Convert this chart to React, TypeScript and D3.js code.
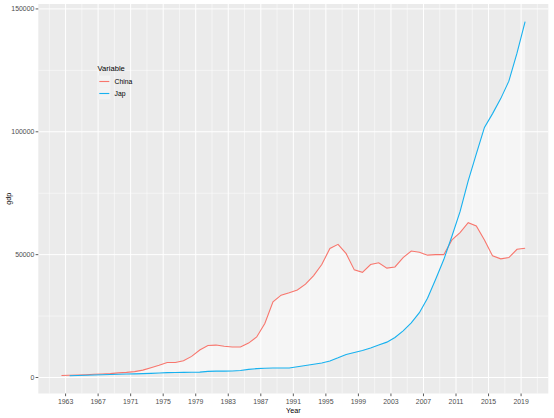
import React from "react";
import * as d3 from "d3";

// annual GDP series
const chinaYears = [
  1962, 1963, 1964, 1965, 1966, 1967, 1968, 1969, 1970, 1971,
  1972, 1973, 1974, 1975, 1976, 1977, 1978, 1979, 1980, 1981,
  1982, 1983, 1984, 1985, 1986, 1987, 1988, 1989, 1990, 1991,
  1992, 1993, 1994, 1995, 1996, 1997, 1998, 1999, 2000, 2001,
  2002, 2003, 2004, 2005, 2006, 2007, 2008, 2009, 2010, 2011,
  2012, 2013, 2014, 2015, 2016, 2017, 2018, 2019,
];
const chinaGdp = [
  810, 900, 1000, 1150, 1300, 1450, 1600, 1900, 2100, 2400,
  3000, 4000, 5000, 6100, 6100, 6800, 8600, 11200, 13000, 13200,
  12700, 12400, 12400, 14000, 16500, 22000, 30800, 33500, 34500, 35600,
  38000, 41500, 46000, 52500, 54200, 50400, 43800, 42800, 46000, 46700,
  44500, 45000, 48800, 51500, 51000, 49800, 50000, 50000, 56000, 59000,
  63000, 61700, 56000, 49500, 48300, 48800, 52200, 52600,
];
const japYears = [
  1963, 1964, 1965, 1966, 1967, 1968, 1969, 1970, 1971, 1972,
  1973, 1974, 1975, 1976, 1977, 1978, 1979, 1980, 1981, 1982,
  1983, 1984, 1985, 1986, 1987, 1988, 1989, 1990, 1991, 1992,
  1993, 1994, 1995, 1996, 1997, 1998, 1999, 2000, 2001, 2002,
  2003, 2004, 2005, 2006, 2007, 2008, 2009, 2010, 2011, 2012,
  2013, 2014, 2015, 2016, 2017, 2018, 2019,
];
const japGdp = [
  700, 800, 900, 1000, 1100, 1200, 1300, 1400, 1500, 1600,
  1700, 1850, 2000, 2050, 2100, 2150, 2200, 2500, 2600, 2600,
  2650, 2850, 3300, 3600, 3800, 3900, 3900, 3900, 4400, 4900,
  5400, 5900, 6700, 8000, 9400, 10200, 11000, 12000, 13200, 14400,
  16300, 19000, 22200, 26400, 32300, 40000, 48000, 57500, 67500, 80000,
  91000, 101800, 107400, 113500, 120600, 132000, 144800,
];

const seriesNames = ["China", "Jap"];
const xTickYears = [1963, 1967, 1971, 1975, 1979, 1983, 1987, 1991, 1995, 1999, 2003, 2007, 2011, 2015, 2019];
const yTickValues = [0, 50000, 100000, 150000];

const width = 554;
const height = 418;
const panel = { left: 38.3, right: 548.3, top: 4, bottom: 393.5 };
const colors = ["#F8766D", "#17B1EF"];
const font = "'Liberation Sans', Arial, sans-serif";

// annual values sit at mid-year
const midYear = (yr: number) => new Date(yr, 6, 1);

function expand(ext: [number, number]): [number, number] {
  const span = ext[1] - ext[0];
  return [ext[0] - span * 0.05, ext[1] + span * 0.05];
}

type Pt = { year: number; value: number };

export default function App() {
  const china: Pt[] = chinaYears.map((year, i) => ({ year, value: chinaGdp[i] }));
  const jap: Pt[] = japYears.map((year, i) => ({ year, value: japGdp[i] }));
  const all = [...china, ...jap];

  const xExt = expand([
    +midYear(d3.min(all, (d) => d.year)!),
    +midYear(d3.max(all, (d) => d.year)!),
  ]);
  const x = d3
    .scaleTime()
    .domain([new Date(xExt[0]), new Date(xExt[1])])
    .range([panel.left, panel.right]);

  const y = d3
    .scaleLinear()
    .domain(expand([d3.min(all, (d) => d.value)!, d3.max(all, (d) => d.value)!]))
    .range([panel.bottom, panel.top]);

  // minor breaks half way between majors, like ggplot
  const xMinor: number[] = [];
  const stepX = xTickYears[1] - xTickYears[0];
  for (let yr = xTickYears[0] - stepX / 2; yr <= xTickYears[xTickYears.length - 1] + stepX / 2; yr += stepX) {
    const px = x(new Date(yr, 0, 1));
    if (px >= panel.left && px <= panel.right) xMinor.push(px);
  }
  const yMinor: number[] = [];
  const stepY = yTickValues[1] - yTickValues[0];
  for (let v = yTickValues[0] - stepY / 2; v <= yTickValues[yTickValues.length - 1] + stepY / 2; v += stepY) {
    const py = y(v);
    if (py >= panel.top && py <= panel.bottom) yMinor.push(py);
  }

  const line = d3
    .line<Pt>()
    .x((d) => x(midYear(d.year)))
    .y((d) => y(d.value));

  // ribbon between the two series on the shared years
  const chinaByYear = new Map(china.map((d) => [d.year, d.value]));
  const band = jap
    .filter((d) => chinaByYear.has(d.year))
    .map((d) => ({ year: d.year, lo: chinaByYear.get(d.year)!, hi: d.value }));
  const ribbon = d3
    .area<{ year: number; lo: number; hi: number }>()
    .x((d) => x(midYear(d.year)))
    .y0((d) => y(d.lo))
    .y1((d) => y(d.hi));

  const series = [china, jap];

  return (
    <svg
      width={width}
      height={height}
      style={{ position: "absolute", left: 0, top: 0, background: "#fff" }}
      fontFamily={font}
    >
      <rect
        x={panel.left}
        y={panel.top}
        width={panel.right - panel.left}
        height={panel.bottom - panel.top}
        fill="#EBEBEB"
      />
      {/* minor grid */}
      {xMinor.map((px, i) => (
        <line key={"xm" + i} x1={px} x2={px} y1={panel.top} y2={panel.bottom} stroke="#fff" strokeWidth={0.5} />
      ))}
      {yMinor.map((py, i) => (
        <line key={"ym" + i} x1={panel.left} x2={panel.right} y1={py} y2={py} stroke="#fff" strokeWidth={0.5} />
      ))}
      {/* major grid */}
      {xTickYears.map((yr) => (
        <line
          key={"xg" + yr}
          x1={x(new Date(yr, 0, 1))}
          x2={x(new Date(yr, 0, 1))}
          y1={panel.top}
          y2={panel.bottom}
          stroke="#fff"
          strokeWidth={1}
        />
      ))}
      {yTickValues.map((v) => (
        <line key={"yg" + v} x1={panel.left} x2={panel.right} y1={y(v)} y2={y(v)} stroke="#fff" strokeWidth={1} />
      ))}

      <path d={ribbon(band)!} fill="#fff" fillOpacity={0.5} />
      {series.map((s, i) => (
        <path key={seriesNames[i]} d={line(s)!} fill="none" stroke={colors[i]} strokeWidth={1.1} />
      ))}

      {/* y axis */}
      {yTickValues.map((v) => (
        <g key={"yt" + v}>
          <line x1={panel.left - 2.7} x2={panel.left} y1={y(v)} y2={y(v)} stroke="#333" strokeWidth={0.8} />
          <text x={panel.left - 4} y={y(v)} dy="0.35em" textAnchor="end" fontSize={6.9} fill="#4D4D4D">
            {v}
          </text>
        </g>
      ))}
      {/* x axis */}
      {xTickYears.map((yr) => {
        const px = x(new Date(yr, 0, 1));
        return (
          <g key={"xt" + yr}>
            <line x1={px} x2={px} y1={panel.bottom} y2={panel.bottom + 2.7} stroke="#333" strokeWidth={0.8} />
            <text x={px} y={panel.bottom + 10.5} textAnchor="middle" fontSize={6.9} fill="#4D4D4D">
              {yr}
            </text>
          </g>
        );
      })}
      <text x={(panel.left + panel.right) / 2} y={412.5} textAnchor="middle" fontSize={7.2} fill="#000">
        Year
      </text>
      <text
        transform={`translate(10.5,${(panel.top + panel.bottom) / 2}) rotate(-90)`}
        textAnchor="middle"
        fontSize={7.2}
        fill="#000"
      >
        gdp
      </text>

      {/* legend */}
      <g transform="translate(97.5,0)">
        <text x={0} y={71} fontSize={7.6} fill="#000">
          Variable
        </text>
        {seriesNames.map((name, i) => (
          <g key={"lg" + name} transform={`translate(0,${81.5 + i * 12})`}>
            <rect x={0} y={-6} width={13} height={12} fill="#F2F2F2" />
            <line x1={1.8} x2={11.8} y1={0} y2={0} stroke={colors[i]} strokeWidth={1.1} />
            <text x={17} y={0} dy="0.35em" fontSize={6.8} fill="#000">
              {name}
            </text>
          </g>
        ))}
      </g>
    </svg>
  );
}
